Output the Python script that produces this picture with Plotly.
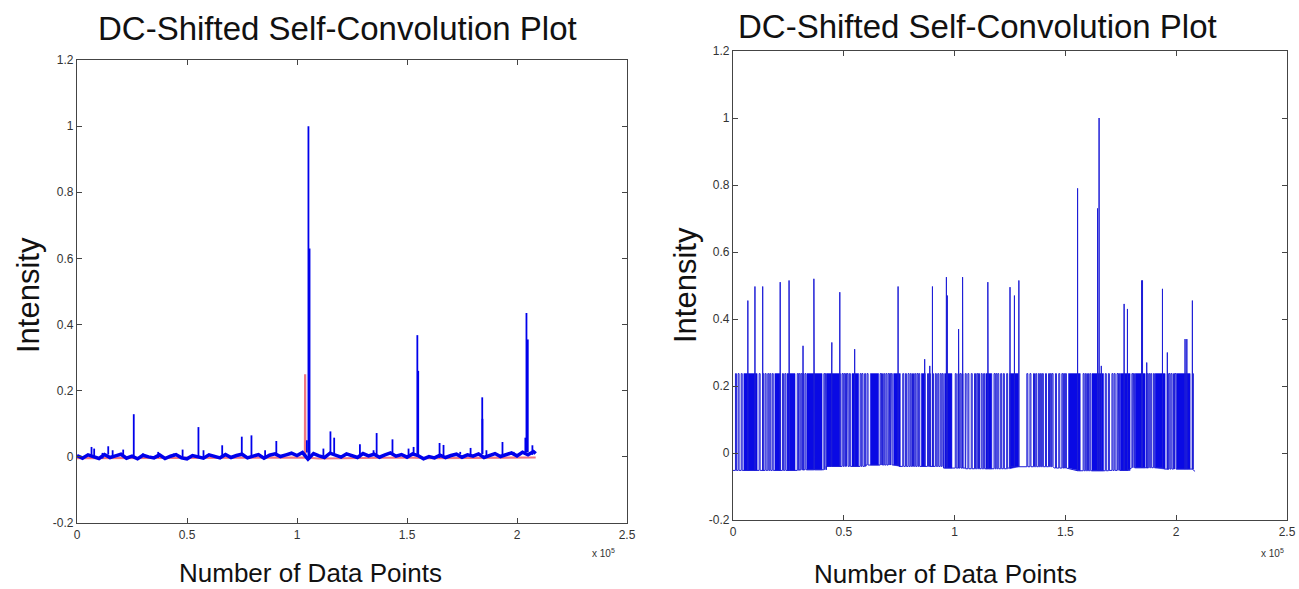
import plotly.graph_objects as go

# ---------------- data: left panel (raw data-point index, intensity) ----------------
l_base_x = [0, 2500, 5000, 7500, 10000, 12500, 15000, 17500, 20000, 22500,
            25000, 27500, 30000, 32500, 35000, 37500, 40000, 42500, 45000, 47500,
            50000, 52500, 55000, 57500, 60000, 62500, 65000, 67500, 70000, 72500,
            75000, 77500, 80000, 82500, 85000, 87500, 90000, 92500, 95000, 97500,
            100000, 102500, 105000, 107500, 110000, 112500, 115000, 117500, 120000, 122500,
            125000, 127500, 130000, 132500, 135000, 137500, 140000, 142500, 145000, 147500,
            150000, 152500, 155000, 157500, 160000, 162500, 165000, 167500, 170000, 172500,
            175000, 177500, 180000, 182500, 185000, 187500, 190000, 192500, 195000, 197500,
            200000, 202500, 205000, 207500, 208500]
l_base_y = [0.004, -0.004, 0.006, 0.001, -0.005, 0.007, -0.002, 0.003, 0.008, -0.004,
            0.002, -0.006, 0.005, 0.000, -0.003, 0.006, -0.005, 0.002, 0.007, -0.003,
            -0.006, 0.004, 0.001, -0.004, 0.006, 0.002, -0.003, 0.007, -0.002, 0.004,
            0.008, -0.003, 0.002, 0.007, -0.004, 0.005, 0.009, 0.001, 0.006, 0.011,
            0.004, 0.013, -0.007, 0.010, 0.003, -0.002, 0.011, 0.006, -0.001, 0.009,
            0.004, -0.002, 0.010, 0.003, 0.008, -0.001, 0.006, 0.012, 0.002, 0.007,
            -0.001, 0.009, 0.004, -0.006, 0.001, -0.003, 0.005, -0.002, 0.004, 0.008,
            -0.001, 0.006, 0.002, 0.009, -0.002, 0.005, 0.010, 0.001, 0.007, 0.012,
            0.003, 0.014, 0.006, 0.016, 0.010]

l_spike_x = [6600, 7800, 11600, 14200, 16200, 21000, 25800, 30000, 36900, 44000,
             48000, 55200, 57500, 66000, 74900, 79300, 85500, 90600, 97000, 104500,
             105200, 105700, 112000, 115200, 116900, 128600, 134800, 136200, 143400, 150700,
             153000, 154700, 155100, 164800, 166600, 174200, 178900, 184200, 184300, 186100,
             193400, 198500, 203800, 204300, 204900, 207000]
l_spike_h = [0.030, 0.025, 0.012, 0.032, 0.020, 0.022, 0.129, 0.010, 0.015, 0.010,
             0.022, 0.090, 0.020, 0.035, 0.061, 0.065, 0.020, 0.048, 0.010, 0.050,
             1.000, 0.630, 0.025, 0.077, 0.058, 0.038, 0.020, 0.072, 0.053, 0.025,
             0.030, 0.368, 0.260, 0.042, 0.036, 0.015, 0.027, 0.180, 0.115, 0.020,
             0.045, 0.015, 0.058, 0.435, 0.355, 0.035]

l_red_x = [0, 50000, 100000, 103600, 103700, 103800, 110000, 150000, 160000, 208500]
l_red_y = [-0.004, -0.003, -0.002, -0.002, 0.250, -0.002, -0.005, -0.002, -0.004, -0.002]

# ---------------- data: right panel ----------------
r_base_x = [0, 30000, 42000, 60000, 75000, 95000, 105000, 125000, 145000, 155000,
            170000, 180000, 195000, 208500]
r_base_y = [-0.052, -0.050, -0.040, -0.036, -0.040, -0.045, -0.047, -0.041, -0.045, -0.053,
            -0.052, -0.044, -0.048, -0.055]
r_pulse_top = 0.237

r_block_start = [4900, 18900, 24400, 33400, 42400, 53700, 62000, 72500, 85000, 95500,
                 114100, 124800, 151400, 162000, 174800, 181500, 190500, 200200]
r_block_end = [10900, 21400, 28000, 40200, 48500, 56700, 65700, 75500, 86800, 98800,
               116800, 128800, 156700, 167200, 179200, 186000, 195000, 206300]

r_line_x = [1100, 2300, 3700, 11800, 13400, 14500, 15700, 16600, 17700, 22300,
            23400, 29000, 29700, 30600, 31500, 32500, 41000, 41700, 49200, 50000,
            50800, 51500, 52500, 57400, 58200, 59400, 60500, 66400, 67000, 68000,
            69000, 70000, 70700, 71400, 76600, 77800, 79000, 80000, 81000, 82000,
            83000, 83800, 87800, 88600, 90000, 91300, 92400, 93500, 94400, 100300,
            101500, 102400, 103300, 104800, 106000, 107500, 109000, 110000, 110800, 112000,
            113100, 117800, 118600, 119500, 120800, 122000, 123500, 132600, 134000, 135600,
            136600, 137800, 138700, 139600, 141000, 142400, 143200, 144000, 145500, 147000,
            148400, 149200, 150000, 158000, 159000, 160000, 161000, 168000, 169400, 171000,
            172000, 173300, 174000, 180000, 180700, 186700, 187600, 188500, 189700, 196000,
            196800, 197700, 198800, 199500, 207300]

r_spike_x = [6700, 9900, 13400, 21300, 25300, 25500, 31600, 36500, 36800, 44300,
             44600, 48200, 54900, 74500, 86500, 88800, 90000, 96300, 96700, 101800,
             103600, 115000, 115200, 125000, 127000, 129000, 155500, 164500, 165200, 166200,
             176500, 178000, 184400, 184800, 186700, 193800, 196000, 204000, 204800, 207300]
r_spike_h = [0.455, 0.497, 0.497, 0.510, 0.515, 0.440, 0.320, 0.520, 0.520, 0.300,
             0.330, 0.480, 0.310, 0.497, 0.280, 0.260, 0.497, 0.525, 0.470, 0.370,
             0.525, 0.510, 0.280, 0.495, 0.470, 0.515, 0.790, 0.730, 1.000, 0.260,
             0.445, 0.430, 0.515, 0.515, 0.270, 0.490, 0.300, 0.340, 0.340, 0.455]

x_tick_vals = [0, 50000, 100000, 150000, 200000, 250000]
x_tick_text = ["0", "0.5", "1", "1.5", "2", "2.5"]
y_tick_vals = [-0.2, 0, 0.2, 0.4, 0.6, 0.8, 1.0, 1.2]
y_tick_text = ["-0.2", "0", "0.2", "0.4", "0.6", "0.8", "1", "1.2"]

title_text = "DC-Shifted Self-Convolution Plot"
x_title = "Number of Data Points"
y_title = "Intensity"


def base_at(bx, by, x):
    """value of the closest preceding baseline sample"""
    val = by[0]
    for xx, yy in zip(bx, by):
        if xx <= x:
            val = yy
        else:
            break
    return val


# ---------- left: spikes as separate vertical segments ----------
sx, sy = [], []
for x, h in zip(l_spike_x, l_spike_h):
    b = base_at(l_base_x, l_base_y, x)
    sx += [x, x, None]
    sy += [b, h, None]

# ---------- right: pulse trace ----------
PW = 450
ev = [(x, 0, y) for x, y in zip(r_base_x, r_base_y)]
ev += [(x, 1, r_pulse_top) for x in r_line_x]
ev += [(x, 2, h) for x, h in zip(r_spike_x, r_spike_h)]
ev.sort(key=lambda e: (e[0], e[1]))
rx, ry = [], []
for x, kind, v in ev:
    b = base_at(r_base_x, r_base_y, x)
    if kind == 0:
        rx.append(x); ry.append(v)
    elif kind == 1:
        rx += [x, x, x + PW, x + PW]; ry += [b, v, v, b]
    else:
        rx += [x, x, x]; ry += [b, v, b]

bx, by = [], []
for s, e in zip(r_block_start, r_block_end):
    b0 = base_at(r_base_x, r_base_y, s)
    b1 = base_at(r_base_x, r_base_y, e)
    bx += [s, s, e, e, s, None]
    by += [b0, r_pulse_top, r_pulse_top, b1, b0, None]

BLUE = "rgb(0,0,235)"
fig = go.Figure()
fig.add_trace(go.Scatter(x=l_red_x, y=l_red_y, mode="lines",
                         line=dict(color="rgb(240,120,130)", width=2.2),
                         xaxis="x", yaxis="y", hoverinfo="skip"))
fig.add_trace(go.Scatter(x=l_base_x, y=l_base_y, mode="lines",
                         line=dict(color=BLUE, width=3.5),
                         xaxis="x", yaxis="y", hoverinfo="skip"))
fig.add_trace(go.Scatter(x=sx, y=sy, mode="lines",
                         line=dict(color=BLUE, width=1.8),
                         xaxis="x", yaxis="y", hoverinfo="skip"))
fig.add_trace(go.Scatter(x=bx, y=by, mode="lines", fill="toself",
                         fillcolor="rgb(10,10,228)", line=dict(width=0.5, color="rgb(10,10,228)"),
                         xaxis="x2", yaxis="y2", hoverinfo="skip"))
fig.add_trace(go.Scatter(x=rx, y=ry, mode="lines",
                         line=dict(color="rgb(30,30,215)", width=1),
                         xaxis="x2", yaxis="y2", hoverinfo="skip"))

W, H = 1299, 589
FONT = "Liberation Sans, Arial, sans-serif"


def px(xp):
    return xp / W


def py(yp):
    return 1 - yp / H


axis_common = dict(showline=True, linecolor="#444", linewidth=1.2, mirror="ticks",
                   ticks="inside", ticklen=5, tickcolor="#444", showgrid=False,
                   zeroline=False, automargin=False,
                   tickfont=dict(family=FONT, size=12, color="#333"))

fig.update_layout(
    width=W, height=H, margin=dict(l=0, r=0, t=0, b=0, autoexpand=False),
    paper_bgcolor="white", plot_bgcolor="white", showlegend=False,
    xaxis=dict(domain=[px(77), px(627)], range=[0, 250000], anchor="y",
               tickvals=x_tick_vals, ticktext=x_tick_text, **axis_common),
    yaxis=dict(domain=[py(523), py(60)], range=[-0.2, 1.2], anchor="x",
               tickvals=y_tick_vals, ticktext=y_tick_text, **axis_common),
    xaxis2=dict(domain=[px(733), px(1287)], range=[0, 250000], anchor="y2",
                tickvals=x_tick_vals, ticktext=x_tick_text, **axis_common),
    yaxis2=dict(domain=[py(520), py(51)], range=[-0.2, 1.2], anchor="x2",
                tickvals=y_tick_vals, ticktext=y_tick_text, **axis_common),
)

ann = []
for cx, ty, xtx, xty, ytx, yty, sxp in [(337, 28, 310, 573, 28, 295, 603),
                                         (977, 27, 945, 574, 685, 285, 1272)]:
    ann.append(dict(x=px(cx), y=py(ty), xref="paper", yref="paper", text=title_text,
                    showarrow=False, font=dict(family=FONT, size=33, color="#111"),
                    xanchor="center", yanchor="middle"))
    ann.append(dict(x=px(xtx), y=py(xty), xref="paper", yref="paper", text=x_title,
                    showarrow=False, font=dict(family=FONT, size=26, color="#111"),
                    xanchor="center", yanchor="middle"))
    ann.append(dict(x=px(ytx), y=py(yty), xref="paper", yref="paper", text=y_title,
                    showarrow=False, textangle=-90, font=dict(family=FONT, size=31, color="#111"),
                    xanchor="center", yanchor="middle"))
    ann.append(dict(x=px(sxp), y=py(553), xref="paper", yref="paper", text="x 10<sup>5</sup>",
                    showarrow=False, font=dict(family=FONT, size=10, color="#333"),
                    xanchor="center", yanchor="middle"))
fig.update_layout(annotations=ann)

fig.write_html("out.html", config={"displayModeBar": False},
               post_script="document.body.style.margin='0';document.body.style.overflow='hidden';")
